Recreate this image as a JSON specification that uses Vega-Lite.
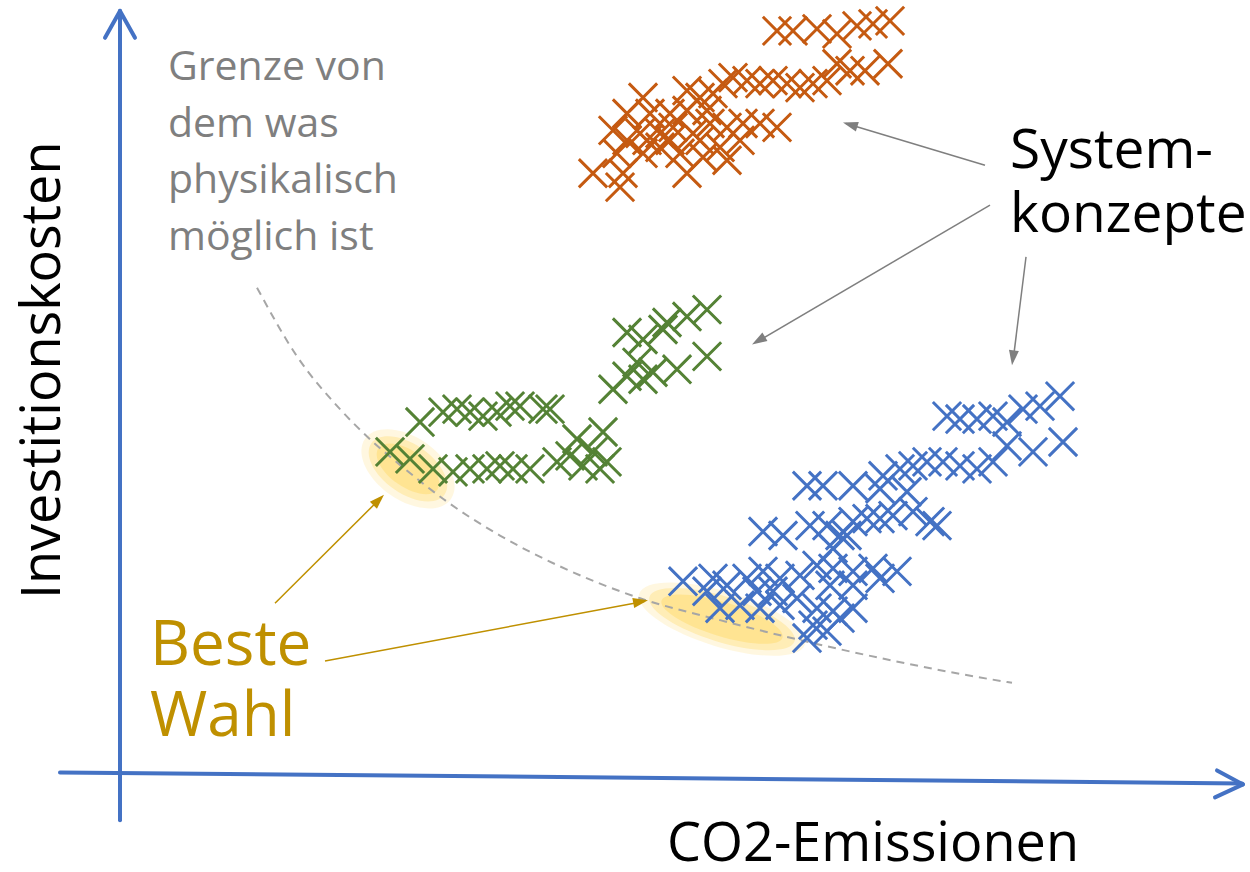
{
  "$schema": "https://vega.github.io/schema/vega-lite/v6.json",
  "width": 1250,
  "height": 872,
  "padding": 0,
  "autosize": {"type": "fit", "contains": "padding"},
  "background": "white",
  "config": {"view": {"stroke": null}},
  "datasets": {
    "glow": [
      {"x": 408, "y": 470, "w": 1, "a": 35},
      {"x": 722, "y": 621, "w": 2, "a": 17}
    ],
    "curve": [
      {"x": 257, "y": 288}, {"x": 297, "y": 357}, {"x": 340, "y": 410}, {"x": 373, "y": 443},
      {"x": 400, "y": 466}, {"x": 447, "y": 503}, {"x": 500, "y": 537}, {"x": 560, "y": 568},
      {"x": 640, "y": 600}, {"x": 720, "y": 622}, {"x": 800, "y": 642}, {"x": 880, "y": 660},
      {"x": 960, "y": 676}, {"x": 1012, "y": 685}
    ],
    "pts": [
      {"g":"orange","x":777,"y":30},{"g":"orange","x":793,"y":30},{"g":"orange","x":817,"y":28},{"g":"orange","x":837,"y":33},{"g":"orange","x":857,"y":25},{"g":"orange","x":873,"y":23},{"g":"orange","x":890,"y":20},{"g":"orange","x":888,"y":63},{"g":"orange","x":865,"y":70},{"g":"orange","x":850,"y":70},{"g":"orange","x":837,"y":63},{"g":"orange","x":827,"y":80},{"g":"orange","x":813,"y":83},{"g":"orange","x":800,"y":87},{"g":"orange","x":787,"y":83},{"g":"orange","x":773,"y":80},{"g":"orange","x":760,"y":83},{"g":"orange","x":747,"y":80},{"g":"orange","x":733,"y":77},{"g":"orange","x":723,"y":83},{"g":"orange","x":713,"y":93},{"g":"orange","x":700,"y":97},{"g":"orange","x":687,"y":90},{"g":"orange","x":707,"y":110},{"g":"orange","x":687,"y":110},{"g":"orange","x":670,"y":113},{"g":"orange","x":643,"y":97},{"g":"orange","x":650,"y":113},{"g":"orange","x":627,"y":113},{"g":"orange","x":613,"y":130},{"g":"orange","x":627,"y":140},{"g":"orange","x":640,"y":133},{"g":"orange","x":660,"y":133},{"g":"orange","x":673,"y":127},{"g":"orange","x":693,"y":133},{"g":"orange","x":710,"y":123},{"g":"orange","x":727,"y":127},{"g":"orange","x":743,"y":123},{"g":"orange","x":760,"y":123},{"g":"orange","x":777,"y":127},{"g":"orange","x":617,"y":153},{"g":"orange","x":593,"y":173},{"g":"orange","x":623,"y":173},{"g":"orange","x":620,"y":187},{"g":"orange","x":643,"y":153},{"g":"orange","x":660,"y":147},{"g":"orange","x":680,"y":153},{"g":"orange","x":687,"y":173},{"g":"orange","x":703,"y":157},{"g":"orange","x":720,"y":147},{"g":"orange","x":727,"y":160},{"g":"orange","x":740,"y":140},{"g":"orange","x":700,"y":140},{"g":"orange","x":670,"y":140},{"g":"orange","x":647,"y":140},
      {"g":"green","x":420,"y":423},{"g":"green","x":443,"y":413},{"g":"green","x":457,"y":410},{"g":"green","x":470,"y":413},{"g":"green","x":483,"y":417},{"g":"green","x":497,"y":413},{"g":"green","x":510,"y":407},{"g":"green","x":520,"y":407},{"g":"green","x":543,"y":410},{"g":"green","x":550,"y":410},
      {"g":"green","x":390,"y":453},{"g":"green","x":410,"y":460},{"g":"green","x":433,"y":470},{"g":"green","x":453,"y":473},{"g":"green","x":470,"y":470},{"g":"green","x":487,"y":470},{"g":"green","x":500,"y":467},{"g":"green","x":513,"y":470},{"g":"green","x":530,"y":470},{"g":"green","x":557,"y":463},{"g":"green","x":570,"y":457},{"g":"green","x":577,"y":440},{"g":"green","x":593,"y":453},{"g":"green","x":603,"y":433},{"g":"green","x":607,"y":463},{"g":"green","x":600,"y":470},{"g":"green","x":583,"y":467},
      {"g":"green","x":613,"y":390},{"g":"green","x":627,"y":377},{"g":"green","x":643,"y":380},{"g":"green","x":637,"y":363},{"g":"green","x":653,"y":373},{"g":"green","x":677,"y":370},{"g":"green","x":707,"y":357},{"g":"green","x":627,"y":333},{"g":"green","x":643,"y":340},{"g":"green","x":663,"y":330},{"g":"green","x":667,"y":323},{"g":"green","x":687,"y":317},{"g":"green","x":707,"y":310},
      {"g":"blue","x":947,"y":417},{"g":"blue","x":960,"y":420},{"g":"blue","x":977,"y":420},{"g":"blue","x":993,"y":417},{"g":"blue","x":1007,"y":423},{"g":"blue","x":1023,"y":410},{"g":"blue","x":1040,"y":407},{"g":"blue","x":1060,"y":397},{"g":"blue","x":1063,"y":443},{"g":"blue","x":1033,"y":453},{"g":"blue","x":1007,"y":447},{"g":"blue","x":993,"y":463},{"g":"blue","x":977,"y":470},{"g":"blue","x":960,"y":467},{"g":"blue","x":943,"y":463},{"g":"blue","x":927,"y":463},{"g":"blue","x":913,"y":467},{"g":"blue","x":900,"y":470},{"g":"blue","x":883,"y":477},{"g":"blue","x":880,"y":490},{"g":"blue","x":807,"y":487},{"g":"blue","x":823,"y":487},{"g":"blue","x":853,"y":487},{"g":"blue","x":907,"y":493},
      {"g":"blue","x":763,"y":533},{"g":"blue","x":783,"y":537},{"g":"blue","x":810,"y":527},{"g":"blue","x":827,"y":527},{"g":"blue","x":840,"y":537},{"g":"blue","x":853,"y":523},{"g":"blue","x":867,"y":520},{"g":"blue","x":880,"y":520},{"g":"blue","x":893,"y":517},{"g":"blue","x":913,"y":513},{"g":"blue","x":930,"y":523},{"g":"blue","x":937,"y":527},{"g":"blue","x":833,"y":550},{"g":"blue","x":847,"y":537},
      {"g":"blue","x":683,"y":583},{"g":"blue","x":713,"y":580},{"g":"blue","x":727,"y":587},{"g":"blue","x":747,"y":580},{"g":"blue","x":763,"y":573},{"g":"blue","x":780,"y":580},{"g":"blue","x":800,"y":577},{"g":"blue","x":817,"y":567},{"g":"blue","x":833,"y":570},{"g":"blue","x":853,"y":573},{"g":"blue","x":873,"y":570},{"g":"blue","x":897,"y":573},{"g":"blue","x":830,"y":587},{"g":"blue","x":853,"y":587},{"g":"blue","x":880,"y":580},
      {"g":"blue","x":720,"y":610},{"g":"blue","x":740,"y":607},{"g":"blue","x":760,"y":610},{"g":"blue","x":780,"y":607},{"g":"blue","x":797,"y":600},{"g":"blue","x":817,"y":610},{"g":"blue","x":833,"y":613},{"g":"blue","x":853,"y":610},{"g":"blue","x":813,"y":627},{"g":"blue","x":807,"y":640},{"g":"blue","x":827,"y":633},{"g":"blue","x":840,"y":620},{"g":"blue","x":757,"y":593},{"g":"blue","x":773,"y":593},{"g":"blue","x":707,"y":593}
    ],
    "lines": [
      {"kind": "axis", "x": 120, "y": 823, "x2": 120, "y2": 10},
      {"kind": "axis", "x": 120, "y": 10, "x2": 105, "y2": 37},
      {"kind": "axis", "x": 120, "y": 10, "x2": 135, "y2": 37},
      {"kind": "axis", "x": 60, "y": 775, "x2": 1242, "y2": 786},
      {"kind": "axis", "x": 1243, "y": 787, "x2": 1217, "y2": 773},
      {"kind": "axis", "x": 1243, "y": 787, "x2": 1215, "y2": 800},
      {"kind": "grey", "x": 985, "y": 165, "x2": 846, "y2": 123},
      {"kind": "grey", "x": 990, "y": 205, "x2": 756, "y2": 343},
      {"kind": "grey", "x": 1026, "y": 257, "x2": 1013, "y2": 362},
      {"kind": "gold", "x": 275, "y": 605, "x2": 381, "y2": 499},
      {"kind": "gold", "x": 325, "y": 663, "x2": 645, "y2": 603}
    ],
    "heads": [
      {"kind": "grey", "x": 843, "y": 122, "dir": 287},
      {"kind": "grey", "x": 752, "y": 345, "dir": 239.5},
      {"kind": "grey", "x": 1012, "y": 366, "dir": 187.4},
      {"kind": "gold", "x": 384, "y": 496, "dir": 45},
      {"kind": "gold", "x": 648, "y": 602, "dir": 79.3}
    ],
    "labels": [
      {"kind": "ylab", "x": 60, "y": 371, "t": "Investitionskosten"},
      {"kind": "xlab", "x": 667, "y": 864, "t": "CO2-Emissionen"},
      {"kind": "grenze", "x": 168, "y": 79, "t": "Grenze von"},
      {"kind": "grenze", "x": 168, "y": 137, "t": "dem was"},
      {"kind": "grenze", "x": 168, "y": 193, "t": "physikalisch"},
      {"kind": "grenze", "x": 168, "y": 250, "t": "möglich ist"},
      {"kind": "sys", "x": 1010, "y": 168, "t": "System-"},
      {"kind": "sys", "x": 1010, "y": 232, "t": "konzepte"},
      {"kind": "beste", "x": 150, "y": 667, "t": "Beste"},
      {"kind": "beste", "x": 150, "y": 738, "t": "Wahl"}
    ]
  },
  "encoding": {
    "x": {"field": "x", "type": "quantitative", "scale": {"domain": [0, 1250], "nice": false, "zero": false}, "axis": null},
    "y": {"field": "y", "type": "quantitative", "scale": {"domain": [0, 872], "nice": false, "zero": false, "reverse": true}, "axis": null}
  },
  "layer": [
    {
      "data": {"name": "glow"},
      "transform": [{"filter": "datum.w == 1"}],
      "layer": [
        {"mark": {"type": "point", "shape": "M-1,0A1,0.6,0,1,0,1,0A1,0.6,0,1,0,-1,0Z", "filled": true, "color": "#FFE699", "opacity": 0.3, "size": 11000, "strokeWidth": 0}, "encoding": {"angle": {"field": "a", "type": "quantitative", "scale": null}}},
        {"mark": {"type": "point", "shape": "M-1,0A1,0.55,0,1,0,1,0A1,0.55,0,1,0,-1,0Z", "filled": true, "color": "#FFD966", "opacity": 0.35, "size": 8000, "strokeWidth": 0}, "encoding": {"angle": {"field": "a", "type": "quantitative", "scale": null}}},
        {"mark": {"type": "point", "shape": "M-1,0A1,0.5,0,1,0,1,0A1,0.5,0,1,0,-1,0Z", "filled": true, "color": "#FFD966", "opacity": 0.45, "size": 5200, "strokeWidth": 0}, "encoding": {"angle": {"field": "a", "type": "quantitative", "scale": null}}}
      ]
    },
    {
      "data": {"name": "glow"},
      "transform": [{"filter": "datum.w == 2"}],
      "layer": [
        {"mark": {"type": "point", "shape": "M-1,0A1,0.32,0,1,0,1,0A1,0.32,0,1,0,-1,0Z", "filled": true, "color": "#FFE699", "opacity": 0.3, "size": 30000, "strokeWidth": 0}, "encoding": {"angle": {"field": "a", "type": "quantitative", "scale": null}}},
        {"mark": {"type": "point", "shape": "M-1,0A1,0.3,0,1,0,1,0A1,0.3,0,1,0,-1,0Z", "filled": true, "color": "#FFD966", "opacity": 0.35, "size": 23000, "strokeWidth": 0}, "encoding": {"angle": {"field": "a", "type": "quantitative", "scale": null}}},
        {"mark": {"type": "point", "shape": "M-1,0A1,0.27,0,1,0,1,0A1,0.27,0,1,0,-1,0Z", "filled": true, "color": "#FFD966", "opacity": 0.45, "size": 16000, "strokeWidth": 0}, "encoding": {"angle": {"field": "a", "type": "quantitative", "scale": null}}}
      ]
    },
    {
      "data": {"name": "curve"},
      "mark": {"type": "line", "color": "#A6A6A6", "strokeWidth": 2, "strokeDash": [8, 6], "interpolate": "monotone"}
    },
    {
      "data": {"name": "pts"},
      "mark": {"type": "point", "shape": "M-1,-1L1,1M-1,1L1,-1", "filled": false, "strokeWidth": 3, "size": 800, "opacity": 1},
      "encoding": {
        "color": {"field": "g", "type": "nominal", "scale": {"domain": ["orange", "green", "blue"], "range": ["#C55A11", "#548235", "#4472C4"]}, "legend": null}
      }
    },
    {
      "data": {"name": "lines"},
      "transform": [{"filter": "datum.kind == 'axis'"}],
      "mark": {"type": "rule", "color": "#4472C4", "strokeWidth": 4, "strokeCap": "round"},
      "encoding": {"x2": {"field": "x2"}, "y2": {"field": "y2"}}
    },
    {
      "data": {"name": "lines"},
      "transform": [{"filter": "datum.kind == 'grey'"}],
      "mark": {"type": "rule", "color": "#7F7F7F", "strokeWidth": 1.5},
      "encoding": {"x2": {"field": "x2"}, "y2": {"field": "y2"}}
    },
    {
      "data": {"name": "lines"},
      "transform": [{"filter": "datum.kind == 'gold'"}],
      "mark": {"type": "rule", "color": "#BF9000", "strokeWidth": 1.5},
      "encoding": {"x2": {"field": "x2"}, "y2": {"field": "y2"}}
    },
    {
      "data": {"name": "heads"},
      "transform": [{"filter": "datum.kind == 'grey'"}],
      "mark": {"type": "point", "shape": "M0,0L0.5,1.5L-0.5,1.5Z", "filled": true, "color": "#7F7F7F", "size": 400, "opacity": 1, "strokeWidth": 0},
      "encoding": {"angle": {"field": "dir", "type": "quantitative", "scale": null}}
    },
    {
      "data": {"name": "heads"},
      "transform": [{"filter": "datum.kind == 'gold'"}],
      "mark": {"type": "point", "shape": "M0,0L0.5,1.5L-0.5,1.5Z", "filled": true, "color": "#BF9000", "size": 400, "opacity": 1, "strokeWidth": 0},
      "encoding": {"angle": {"field": "dir", "type": "quantitative", "scale": null}}
    },
    {
      "data": {"name": "labels"},
      "transform": [{"filter": "datum.kind == 'ylab'"}],
      "mark": {"type": "text", "font": "Open Sans", "fontSize": 54, "color": "#000000", "angle": 270, "align": "center", "baseline": "alphabetic"},
      "encoding": {"text": {"field": "t"}}
    },
    {
      "data": {"name": "labels"},
      "transform": [{"filter": "datum.kind == 'xlab'"}],
      "mark": {"type": "text", "font": "Open Sans", "fontSize": 54, "color": "#000000", "align": "left", "baseline": "alphabetic"},
      "encoding": {"text": {"field": "t"}}
    },
    {
      "data": {"name": "labels"},
      "transform": [{"filter": "datum.kind == 'grenze'"}],
      "mark": {"type": "text", "font": "Open Sans", "fontSize": 41, "color": "#7F7F7F", "align": "left", "baseline": "alphabetic"},
      "encoding": {"text": {"field": "t"}}
    },
    {
      "data": {"name": "labels"},
      "transform": [{"filter": "datum.kind == 'sys'"}],
      "mark": {"type": "text", "font": "Open Sans", "fontSize": 55, "color": "#000000", "align": "left", "baseline": "alphabetic"},
      "encoding": {"text": {"field": "t"}}
    },
    {
      "data": {"name": "labels"},
      "transform": [{"filter": "datum.kind == 'beste'"}],
      "mark": {"type": "text", "font": "Open Sans", "fontSize": 62, "color": "#BF9000", "align": "left", "baseline": "alphabetic"},
      "encoding": {"text": {"field": "t"}}
    }
  ]
}
